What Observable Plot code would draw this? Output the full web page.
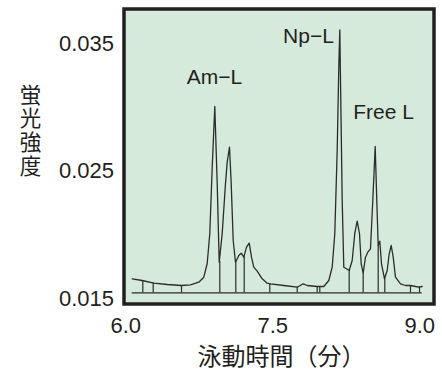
<!DOCTYPE html>
<html><head><meta charset="utf-8">
<script src="https://cdn.jsdelivr.net/npm/d3@7"></script>
<script src="https://cdn.jsdelivr.net/npm/@observablehq/plot@0.6"></script>
<style>body{margin:0;background:#fff}</style>
</head><body><div id="chart"></div>
<script>
// Electropherogram trace (minutes, fluorescence intensity)
const time = [6.0653,6.1673,6.2857,6.4224,6.5684,6.6602,6.7449,6.7959,6.8306,6.8571,6.8816,6.9082,6.9327,6.9531,6.9837,7.0173,7.0347,7.0582,7.0755,7.0959,7.1194,7.1531,7.1776,7.2041,7.2316,7.2592,7.2827,7.3061,7.3408,7.3918,7.4429,7.4765,7.6122,7.7490,7.8102,7.8510,7.9531,8.0204,8.0714,8.1061,8.1327,8.1571,8.1735,8.1837,8.1939,8.2082,8.2245,8.2520,8.2796,8.3102,8.3367,8.3612,8.3847,8.4020,8.4224,8.4459,8.4694,8.4969,8.5204,8.5449,8.5612,8.5755,8.5918,8.6092,8.6398,8.6673,8.6878,8.7082,8.7286,8.7520,8.8031,8.8541,8.9051,8.9561,8.9898,9.0245];
const intensity = [0.016561,0.016427,0.016216,0.016114,0.016035,0.016090,0.016294,0.016686,0.017761,0.020114,0.025290,0.030075,0.024035,0.017863,0.020114,0.024035,0.025706,0.026882,0.024035,0.019565,0.017863,0.018388,0.018569,0.018255,0.019039,0.019353,0.018255,0.017471,0.017157,0.016561,0.016216,0.016169,0.016035,0.015902,0.016169,0.016035,0.015957,0.015957,0.016427,0.017471,0.020114,0.026624,0.033157,0.036090,0.030545,0.022702,0.017471,0.017345,0.017212,0.017996,0.020114,0.021078,0.020114,0.017737,0.017000,0.018255,0.018647,0.018914,0.022702,0.026937,0.022702,0.019173,0.019510,0.017737,0.016561,0.017212,0.018522,0.019173,0.018255,0.016686,0.016169,0.016035,0.016035,0.015957,0.015902,0.015957];
// Integration drop lines
const dropTime = [6.1735,6.2796,6.5684,6.9592,7.1224,7.2082,7.4694,7.7490,7.9531,7.9796,8.2796,8.4224,8.5755,8.6429,8.9051,8.9969];
const dropTop  = [0.016427,0.016231,0.016035,0.017918,0.017878,0.018271,0.016169,0.015902,0.015957,0.015957,0.017212,0.017000,0.019173,0.016584,0.016035,0.015918];
const baselineLevel = 0.015463;
const xTicks = [6.0, 7.5, 9.0];
const yTicks = [0.015, 0.025, 0.035];
const peakLabels = ["Am−L", "Np−L", "Free L"];
const peakLabelTime = [6.905, 7.864, 8.630];
const peakLabelLevel = [0.032349, 0.035565, 0.029604];
const xLabel = "泳動時間（分）";
const yLabel = "蛍光強度";

const ink = "#231f20";
const trace = time.map((t, i) => ({t, v: intensity[i]}));
const drops = dropTime.map((t, i) => ({t, top: dropTop[i]}));
const notes = peakLabels.map((s, i) => ({s, t: peakLabelTime[i], v: peakLabelLevel[i]}));

const chart = Plot.plot({
  width: 442, height: 371,
  marginLeft: 123.5, marginRight: 8.5, marginTop: 8.5, marginBottom: 67.5,
  style: {fontFamily: "'Liberation Sans', Arial, Helvetica, sans-serif", fontSize: "22px", color: ink, background: "#fff"},
  x: {domain: [5.9816, 9.145]},
  y: {domain: [0.014584, 0.037722]},
  marks: [
    Plot.frame({fill: "#d6eadb", stroke: ink, strokeWidth: 3.5}),
    Plot.ruleY([baselineLevel], {x1: time[0], x2: time[time.length - 1], stroke: "#2b2b2b", strokeWidth: 1.3}),
    Plot.ruleX(drops, {x: "t", y1: baselineLevel, y2: "top", stroke: "#2b2b2b", strokeWidth: 1.2}),
    Plot.line(trace, {x: "t", y: "v", stroke: "#2b2b2b", strokeWidth: 1.3}),
    Plot.text(notes, {x: "t", y: "v", text: "s", fill: ink, fontSize: 21, textAnchor: "middle", lineAnchor: "middle"}),
    Plot.axisX(xTicks, {tickSize: 0, tickPadding: 13, tickFormat: d => d.toFixed(1), label: null, fill: ink}),
    Plot.axisY(yTicks, {tickSize: 0, tickPadding: 10, tickFormat: d => d.toFixed(3), label: null, fill: ink}),
    Plot.text([xLabel], {text: d => d, frameAnchor: "bottom", dx: 2.5, dy: 53.5, lineAnchor: "middle", textAnchor: "middle", fontSize: 24, fontFamily: "'Noto Sans CJK JP'", fill: ink}),
    Plot.text([yLabel.split("").join("\n")], {text: d => d, frameAnchor: "left", dx: -93.5, dy: -26, lineAnchor: "middle", textAnchor: "middle", lineHeight: 1.1, fontSize: 21.5, fontFamily: "'Noto Sans CJK JP'", fill: ink})
  ]
});
document.getElementById("chart").appendChild(chart);
</script>
</body></html>
